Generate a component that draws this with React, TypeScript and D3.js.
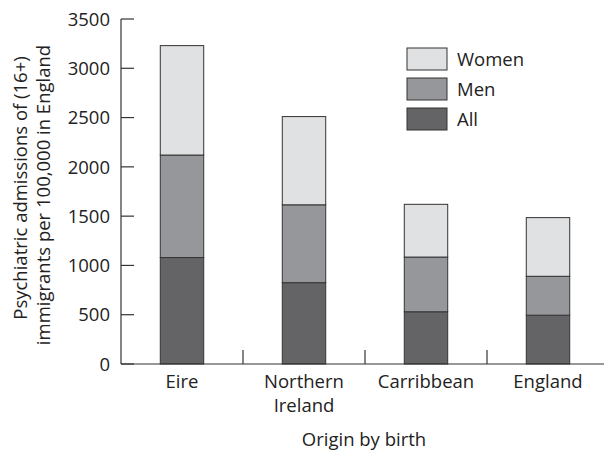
import React from "react";
import * as d3 from "d3";

const categories = ["Eire", "Northern Ireland", "Carribbean", "England"];
const categoryLines = [["Eire"], ["Northern", "Ireland"], ["Carribbean"], ["England"]];
const seriesKeys = ["All", "Men", "Women"];
const allValues = [1080, 825, 530, 495];
const menValues = [1040, 790, 555, 395];
const womenValues = [1110, 895, 535, 595];
const yTicks = [0, 500, 1000, 1500, 2000, 2500, 3000, 3500];
const legendOrder = ["Women", "Men", "All"];

const colors: Record<string, string> = {
  All: "#646466",
  Men: "#96979a",
  Women: "#e0e1e3",
};

const W = 604;
const H = 452;
const FONT = "'Open Sans', Lato, sans-serif";
const FS = 18.5;

export default function App() {
  const rows = categories.map((c, i) => ({
    cat: c,
    All: allValues[i],
    Men: menValues[i],
    Women: womenValues[i],
  }));
  const stacked = d3.stack<any>().keys(seriesKeys)(rows);

  const x = d3.scaleBand().domain(categories).range([121, 609]).padding(0);
  const barW = x.bandwidth() * 0.356;
  const y = d3.scaleLinear().domain([0, 3500]).range([364, 19]);

  return (
    <div style={{ position: "absolute", left: 0, top: 0 }}>
      <svg width={W} height={H} style={{ display: "block", background: "#fff" }} fontFamily={FONT}>
        {/* bars */}
        {stacked.map((s) => (
          <g key={s.key}>
            {s.map((d, i) => (
              <rect
                key={i}
                x={x(categories[i])! + x.bandwidth() / 2 - barW / 2}
                y={y(d[1])}
                width={barW}
                height={y(d[0]) - y(d[1])}
                fill={colors[s.key]}
                stroke="#333"
                strokeWidth={1}
              />
            ))}
          </g>
        ))}

        {/* y axis */}
        <line x1={121} x2={121} y1={y(3500)} y2={y(0)} stroke="#333" strokeWidth={1.2} />
        {yTicks.map((t) => (
          <g key={t}>
            <line x1={121} x2={134} y1={y(t)} y2={y(t)} stroke="#333" strokeWidth={1.2} />
            <text x={110} y={y(t)} dy="0.36em" textAnchor="end" fontSize={FS} fill="#222">
              {t}
            </text>
          </g>
        ))}

        {/* x axis */}
        <line x1={121} x2={604} y1={y(0)} y2={y(0)} stroke="#333" strokeWidth={1.2} />
        {categories.slice(1).map((c) => (
          <line key={c} x1={x(c)!} x2={x(c)!} y1={y(0)} y2={y(0) - 14} stroke="#333" strokeWidth={1.2} />
        ))}
        {categoryLines.map((lines, i) => (
          <text
            key={i}
            x={x(categories[i])! + x.bandwidth() / 2}
            y={388}
            textAnchor="middle"
            fontSize={FS}
            fill="#222"
          >
            {lines.map((l, j) => (
              <tspan key={j} x={x(categories[i])! + x.bandwidth() / 2} dy={j === 0 ? 0 : 23.5}>
                {l}
              </tspan>
            ))}
          </text>
        ))}

        {/* axis titles */}
        <text x={364} y={446} textAnchor="middle" fontSize={FS} fill="#222">
          Origin by birth
        </text>
        <text transform="translate(27,188) rotate(-90)" textAnchor="middle" fontSize={FS} fill="#222">
          Psychiatric admissions of (16+)
        </text>
        <text transform="translate(50,195) rotate(-90)" textAnchor="middle" fontSize={FS} fill="#222">
          immigrants per 100,000 in England
        </text>

        {/* legend */}
        {legendOrder.map((k, i) => (
          <g key={k} transform={`translate(407,${48 + i * 30})`}>
            <rect width={40} height={22} fill={colors[k]} stroke="#333" strokeWidth={1} />
            <text x={50} y={11} dy="0.36em" fontSize={FS} fill="#222">
              {k}
            </text>
          </g>
        ))}
      </svg>
    </div>
  );
}
